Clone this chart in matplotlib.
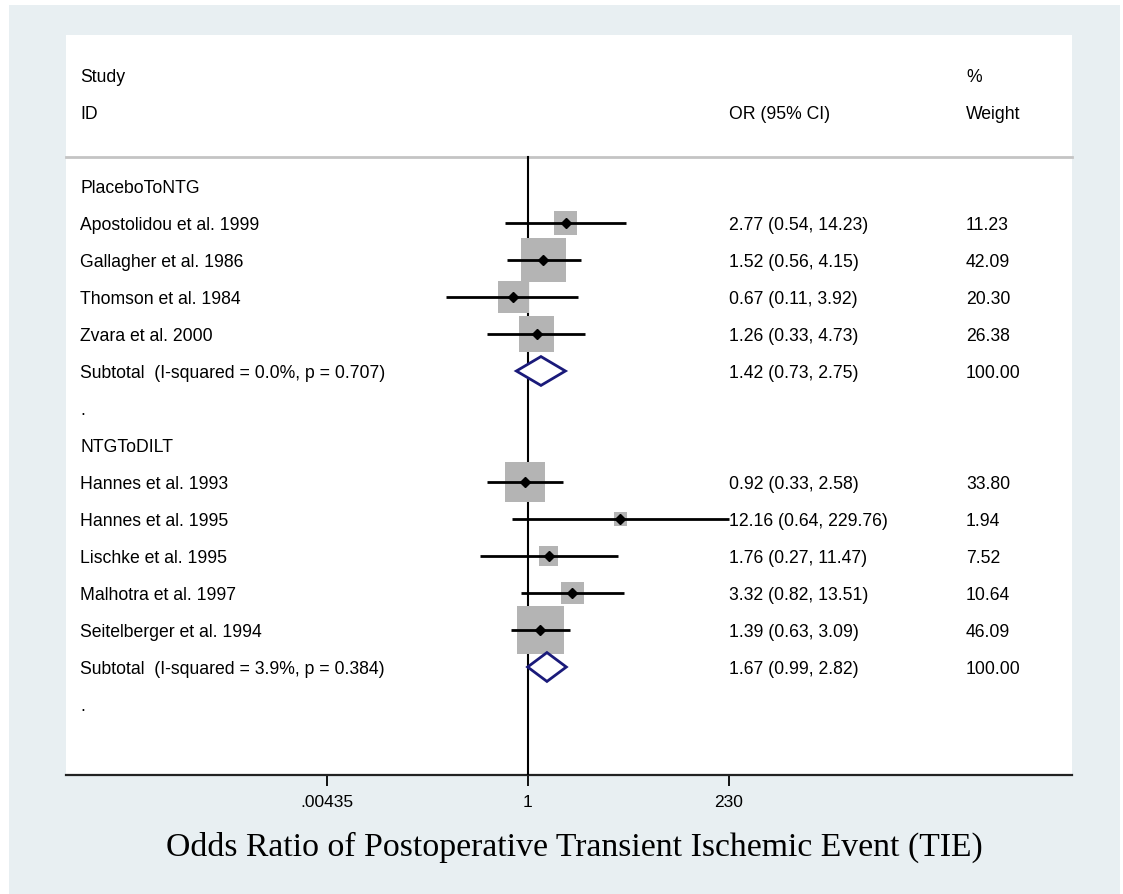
import numpy as np
import matplotlib
matplotlib.use("Agg")
import matplotlib.pyplot as plt
from matplotlib.patches import Rectangle
from matplotlib.transforms import blended_transform_factory

# ---------------- data ----------------
group_names = ["PlaceboToNTG", "NTGToDILT"]

studies_1 = ["Apostolidou et al. 1999", "Gallagher et al. 1986",
             "Thomson et al. 1984", "Zvara et al. 2000"]
or_1 = [2.77, 1.52, 0.67, 1.26]
lo_1 = [0.54, 0.56, 0.11, 0.33]
hi_1 = [14.23, 4.15, 3.92, 4.73]
wt_1 = [11.23, 42.09, 20.30, 26.38]
sub_1 = (1.42, 0.73, 2.75)
het_1 = "I-squared = 0.0%, p = 0.707"

studies_2 = ["Hannes et al. 1993", "Hannes et al. 1995", "Lischke et al. 1995",
             "Malhotra et al. 1997", "Seitelberger et al. 1994"]
or_2 = [0.92, 12.16, 1.76, 3.32, 1.39]
lo_2 = [0.33, 0.64, 0.27, 0.82, 0.63]
hi_2 = [2.58, 229.76, 11.47, 13.51, 3.09]
wt_2 = [33.80, 1.94, 7.52, 10.64, 46.09]
sub_2 = (1.67, 0.99, 2.82)
het_2 = "I-squared = 3.9%, p = 0.384"

tick_values = [0.00435, 1, 230]
tick_labels = [".00435", "1", "230"]
x_title = "Odds Ratio of Postoperative Transient Ischemic Event (TIE)"

# ---------------- figure ----------------
W, H = 1123, 895
fig = plt.figure(figsize=(W / 100, H / 100), dpi=100, facecolor="white")
bg = "#e8eff2"
fig.patches.append(Rectangle((9 / W, 0), (1120 - 9) / W, (H - 6) / H,
                             transform=fig.transFigure, facecolor=bg,
                             edgecolor="none", zorder=-10))

ax_l, ax_r, ax_t, ax_b = 66, 1072, 36, 776
ax = fig.add_axes([ax_l / W, 1 - ax_b / H, (ax_r - ax_l) / W, (ax_b - ax_t) / H])
ax.set_zorder(5)
ax.set_facecolor("white")
ax.set_xscale("log")

null_px = 528
k = np.log(230) / (729 - null_px)
ax.set_xlim(np.exp(-(null_px - ax_l) * k), np.exp((ax_r - null_px) * k))

row0, rstep = 76, 37
ax.set_ylim((ax_b - row0) / rstep, (ax_t - row0) / rstep)

for s in ["top", "left", "right"]:
    ax.spines[s].set_visible(False)
ax.spines["bottom"].set_linewidth(1.6)
ax.spines["bottom"].set_color("#222222")
ax.set_yticks([])
ax.set_xticks(tick_values)
ax.set_xticklabels(tick_labels)
ax.minorticks_off()
ax.tick_params(axis="x", direction="out", length=8, width=1.3, pad=6,
               labelsize=12.5, colors="black")
for lab in ax.get_xticklabels():
    lab.set_fontfamily("Liberation Sans")

sans = "Liberation Sans"
fs = 12.7
tx = blended_transform_factory(ax.transAxes, ax.transData)
x_lab = (80 - ax_l) / (ax_r - ax_l)
x_or = (729 - ax_l) / (ax_r - ax_l)
x_wt = (966 - ax_l) / (ax_r - ax_l)
ty = 1.5 / rstep  # small downward nudge for text baseline

def txt(x, y, s):
    ax.text(x, y + ty, s, transform=tx, ha="left", va="center", fontsize=fs,
            family=sans, color="black")

# header
txt(x_lab, 0, "Study")
txt(x_lab, 1, "ID")
txt(x_or, 1, "OR (95% CI)")
txt(x_wt, 0, "%")
txt(x_wt, 1, "Weight")
sep_y = (158 - row0) / rstep
ax.plot([0, 1], [sep_y, sep_y], transform=tx, color="#c4c4c4", lw=2,
        clip_on=False, zorder=2)

# null line
ax.plot([1, 1], [sep_y, ax.get_ylim()[0]], color="black", lw=1.5, zorder=3)

groups = [
    (group_names[0], studies_1, or_1, lo_1, hi_1, wt_1, sub_1, het_1),
    (group_names[1], studies_2, or_2, lo_2, hi_2, wt_2, sub_2, het_2),
]

row = 3
for gname, studies, ors, los, his, wts, sub, het in groups:
    txt(x_lab, row, gname)
    row += 1
    for name, o, lo, hi, w in zip(studies, ors, los, his, wts):
        side_pt = max(0.72 * 6.93 * np.sqrt(w), 9.4)
        ax.scatter([o], [row], marker="s", s=side_pt ** 2, color="#b4b4b4",
                   edgecolors="none", zorder=4)
        ax.plot([lo, hi], [row, row], color="black", lw=2.0, zorder=5,
                solid_capstyle="butt")
        ax.plot([o], [row], marker="D", markersize=5.0, color="black",
                zorder=6, linestyle="none")
        txt(x_lab, row, name)
        txt(x_or, row, f"{o:.2f} ({lo:.2f}, {hi:.2f})")
        txt(x_wt, row, f"{w:.2f}")
        row += 1
    e, lo, hi = sub
    hh = 0.39
    ax.fill([lo, e, hi, e, lo], [row, row - hh, row, row + hh, row],
            facecolor="white", edgecolor="#1a1a7a", lw=2.0, zorder=6)
    txt(x_lab, row, f"Subtotal  ({het})")
    txt(x_or, row, f"{e:.2f} ({lo:.2f}, {hi:.2f})")
    txt(x_wt, row, "100.00")
    row += 1
    txt(x_lab, row, ".")
    row += 1

fig.text(574 / W, 1 - 847 / H, x_title, ha="center", va="center",
         fontsize=24.3, family="Liberation Serif", color="black")

fig.savefig("out.png", dpi=100, facecolor=fig.get_facecolor())
